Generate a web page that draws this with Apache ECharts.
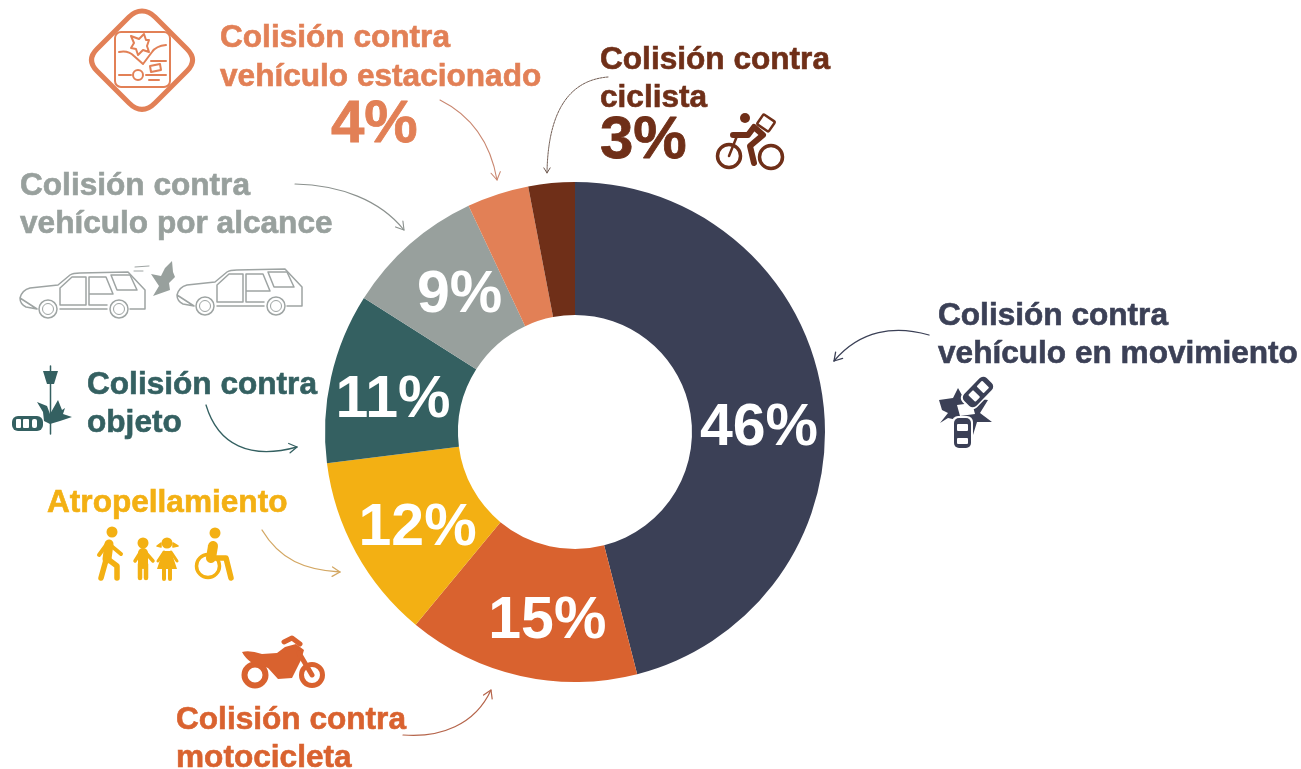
<!DOCTYPE html>
<html>
<head>
<meta charset="utf-8">
<style>html,body{margin:0;padding:0;background:#fff}#c{width:1301px;height:769px}</style>
<script src="https://cdn.jsdelivr.net/npm/echarts@6/dist/echarts.min.js"></script>
</head>
<body>
<div id="c"></div>
<script>
var categories = ['Colisión contra vehículo en movimiento','Colisión contra motocicleta','Atropellamiento','Colisión contra objeto','Colisión contra vehículo por alcance','Colisión contra vehículo estacionado','Colisión contra ciclista'];
var shares = [46,15,12,11,9,4,3];
var colors = ['#3b4056','#d9622f','#f3b013','#346061','#98a09d','#e28056','#6f2f18'];
var labelNudge = [[-1,20],[13,8],[6,7],[0,9],[8,4],null,null];

var NAVY=colors[0],ORANGE=colors[1],YELLOW=colors[2],TEAL=colors[3],GRAY=colors[4],SALMON=colors[5],BROWN=colors[6];
var g = [], shapeCount = 0;
function text(s,x,y,fill,size){
  var big=!!size;
  size=size||31.6;
  g.push({type:'text',silent:true,x:x,y:y-size*0.78,style:{text:s,fill:fill,stroke:fill,lineWidth:big?0.8:0.6,font:'bold '+size+'px "Liberation Sans", Arial, sans-serif',textAlign:'left',textVerticalAlign:'top'}});
}
function p(d,o){ // annotation path, registered as a custom graphic shape
  o=o||{};
  var name='iconShape'+(shapeCount++);
  echarts.graphic.registerShape(name,echarts.graphic.extendPath(d,{}));
  g.push({type:name,silent:true,x:o.x||0,y:o.y||0,
    style:{fill:o.fill||'none',stroke:o.stroke||'none',lineWidth:o.w||1,lineCap:o.cap||'round',lineJoin:'round',lineDash:o.dash||null}});
}
function circle(cx,cy,r,o){
  o=o||{};
  g.push({type:'circle',silent:true,shape:{cx:cx,cy:cy,r:r},style:{fill:o.fill||'none',stroke:o.stroke||'none',lineWidth:o.w||1}});
}
function rrect(x,y,w,h,r,o){
  o=o||{};
  g.push({type:'rect',silent:true,x:o.x||0,y:o.y||0,rotation:o.rot||0,shape:{x:x,y:y,width:w,height:h,r:r},style:{fill:o.fill||'none',stroke:o.stroke||'none',lineWidth:o.w||1}});
}
function arrow(d,hx,hy,a,color,w,dash,len){
  p(d,{stroke:color,w:w||1.1,dash:dash});
  var L=len||9,s=0.55;
  var x1=hx-L*Math.cos(a-s),y1=hy-L*Math.sin(a-s),x2=hx-L*Math.cos(a+s),y2=hy-L*Math.sin(a+s);
  p('M'+x1+' '+y1+' L'+hx+' '+hy+' L'+x2+' '+y2,{stroke:color,w:w||1.1});
}

// texts
text('Colisión contra',220,47,SALMON); text('vehículo estacionado',220,86,SALMON); text('4%',331,142,SALMON,60);
text('Colisión contra',600,69,BROWN); text('ciclista',600,107,BROWN); text('3%',600,158,BROWN,60);
text('Colisión contra',20,195,GRAY); text('vehículo por alcance',20,233,GRAY);
text('Colisión contra',938,325,NAVY); text('vehículo en movimiento',938,363,NAVY);
text('Colisión contra',87,394,TEAL); text('objeto',87,432,TEAL);
text('Atropellamiento',47,512,YELLOW);
text('Colisión contra',176,729,ORANGE); text('motocicleta',176,767,ORANGE);

// arrows
arrow('M440 100 C470 115 490 140 497 180',497,180,1.4,'#c9866f');
arrow('M608 77 C570 80 548 110 547 173',547,173,1.57,'#6f5a50',1,[2,1],6);
arrow('M295 184 C340 185 380 200 404 230',404,230,0.9,'#8b918e');
arrow('M929 335 C895 325 860 330 834 361',834,361,2.3,NAVY,1.3);
arrow('M206 405 C218 445 250 460 297 447',297,447,-0.15,TEAL,1.3);
arrow('M262 530 C280 560 305 570 340 572',340,572,0.05,'#d3a763',1.3);
arrow('M403 735 C440 738 475 725 491 690',491,690,-1.15,'#b5644a',1.2);

// parked-vehicle badge
p('M142 11 Q149 11 155 17 L187 49 Q198 60 187 71 L155 103 Q142 116 129 103 L97 71 Q86 60 97 49 L129 17 Q135 11 142 11 Z',{stroke:SALMON,w:5});
rrect(115,32,55,55,6,{stroke:SALMON,w:2});
p('M131 36 L139 39 L144 34 L146 40 L149 40 L147 46 L149 52 L143 50 L138 55 L136 49 L131 48 L134 43 Z',{stroke:SALMON,w:2});
p('M119 52 Q128 50 134 56 L143 64 L152 52 Q156 46 166 45',{stroke:SALMON,w:2});
p('M119 75 L131 75 M146 75 L166 75 M151 61 L166 61',{stroke:SALMON,w:2});
circle(138,75,5,{stroke:SALMON,w:2});
p('M150 66 L160 64 L161 70 L151 72 Z M149 80 L159 80',{stroke:SALMON,w:2});

// two station wagons
var wagon='M20 298 Q22 290 30 288 L58 285 L70 275 Q73 273 80 273 L128 272 L145 290 L145 309 L130 309 M107 309 L60 309 M37 309 L26 307 Q20 304 20 298 Z';
var CARLINE='#9ea4a3';
[[0,0],[157,-3]].forEach(function(o){
  p(wagon,{x:o[0],y:o[1],stroke:CARLINE,w:1.5});
  p('M60 288 L72 277 L86 277 L86 305 L60 305 Z M89 277 L106 277 L113 294 L89 294 Z M89 294 L89 305 L107 305 M111 275 L130 275 L137 290 L117 290 Z',{x:o[0],y:o[1],stroke:CARLINE,w:1.5});
  circle(48+o[0],309+o[1],9,{stroke:CARLINE,w:1.5}); circle(48+o[0],309+o[1],5.5,{stroke:CARLINE,w:1});
  circle(119+o[0],309+o[1],9,{stroke:CARLINE,w:1.5}); circle(119+o[0],309+o[1],5.5,{stroke:CARLINE,w:1});
});
p('M135 267 L149 266 M134 271 L143 271',{stroke:CARLINE,w:1});
p('M172 261 L173 272 L175 277 L169 283 L170 290 L153 296 L159 286 L151 274 L161 276 L165 268 Z',{fill:GRAY});

// lamp post and car
p('M50.5 366 L50.5 434',{stroke:TEAL,w:1.5});
p('M43 371 L58 371 L54 384 L47 384 Z',{fill:TEAL});
p('M37 402 L47 406 L50 414 L58 400 L62 410 L65 408 L63 414 L72 417 L60 421 L50 424 L44 421 L43 412 Z',{fill:TEAL});
rrect(12,416,31,15,6,{fill:TEAL});
rrect(16,419,5,9,1,{fill:'#fff'}); rrect(23,419,6,9,1,{fill:'#fff'}); rrect(32,419,5,9,2,{fill:'#fff'});

// pedestrians
circle(112,532,5.5,{fill:YELLOW});
p('M109 544 L107 559',{stroke:YELLOW,w:9});
p('M106 560 L101 578 M109 560 L117 566 L117 578',{stroke:YELLOW,w:5.5});
p('M107 544 L99 555 M109 544 L121 554',{stroke:YELLOW,w:4});
circle(143,543,5.5,{fill:YELLOW});
p('M143 553 L143 564',{stroke:YELLOW,w:10});
p('M140 564 L140 578 M146 564 L146 578',{stroke:YELLOW,w:4.5});
p('M140 553 L135 561 M146 553 L153 561',{stroke:YELLOW,w:3.5});
circle(167,543,5.5,{fill:YELLOW});
p('M161 543 L157 546 L161 547 Z M173 543 L178 546 L173 547 Z',{fill:YELLOW,stroke:YELLOW,w:1.5});
p('M163 551 L171 551 L177 569 L157 569 Z',{fill:YELLOW});
p('M164 568 L164 579 M170 568 L170 579',{stroke:YELLOW,w:4});
p('M164 552 L158 561 M171 552 L177 561',{stroke:YELLOW,w:3});
circle(215,533,5.5,{fill:YELLOW});
circle(208,566,11.5,{stroke:YELLOW,w:3.5});
p('M213 546 L211 558',{stroke:YELLOW,w:10});
p('M214 558 L226 558 L231 578',{stroke:YELLOW,w:5.5});

// cyclist
circle(729,156,11.5,{stroke:BROWN,w:3.5}); circle(771,157,11.5,{stroke:BROWN,w:3.5});
circle(745,118,5,{fill:BROWN});
p('M733 135 L748 135 L754 127 L763 135 L750 146 L754 163',{stroke:BROWN,w:6});
p('M737 136 L729 156',{stroke:BROWN,w:2.5});
rrect(-7,-6,14,12,1.5,{x:766,y:123,rot:-0.6,fill:'#fff',stroke:BROWN,w:2.5});

// motorcycle
circle(255,675,10.5,{stroke:ORANGE,w:6}); circle(312,675,10.5,{stroke:ORANGE,w:5});
p('M242 652 Q250 650 262 654 L277 653 L285 647 L296 644 L304 650 L301 660 L292 678 L278 679 L268 668 L252 663 Q245 658 242 652 Z',{fill:ORANGE});
p('M284 642 L292 638 L300 644',{stroke:ORANGE,w:5});
p('M299 653 L312 675',{stroke:ORANGE,w:5});

// crash icon
p('M939 400 L953 398 L958 388 L963 397 L988 400 L980 413 L992 422 L977 422 L973 435 L967 422 L948 418 L940 423 L948 413 L942 410 Z',{fill:NAVY});
p('M957 405 L972 403 L975 414 L960 416 Z',{fill:'#fff'});
rrect(-18,-10,36,20,6,{x:978,y:392,rot:0.8,fill:'#fff'});
rrect(-16,-8.5,32,17,5,{x:978,y:392,rot:0.8,fill:NAVY});
rrect(-9,-5,7,10,1,{x:978,y:392,rot:0.8,fill:'#fff'});
rrect(3,-5,8,10,1,{x:978,y:392,rot:0.8,fill:'#fff'});
rrect(952,416,21,34,6,{fill:'#fff'});
rrect(954,418,17,30,5,{fill:NAVY});
rrect(957,424,11,7,1,{fill:'#fff'}); rrect(957,438,11,6,1,{fill:'#fff'});

var chart = echarts.init(document.getElementById('c'),null,{renderer:'canvas'});
chart.setOption({
  animation:false,
  backgroundColor:'#fff',
  graphic:g,
  series:[{
    type:'pie',
    center:[575,432],
    radius:[117,250],
    startAngle:90,
    clockwise:true,
    silent:true,
    labelLine:{show:false},
    itemStyle:{borderWidth:0},
    label:{position:'inside',formatter:'{c}%',color:'#fff',fontWeight:'bold',fontSize:59,fontFamily:'"Liberation Sans", Arial, sans-serif'},
    data:categories.map(function(c,i){
      var n=labelNudge[i];
      return {name:c,value:shares[i],itemStyle:{color:colors[i]},
        label:n?{offset:n}:{show:false}};
    })
  }]
});
</script>
</body>
</html>
